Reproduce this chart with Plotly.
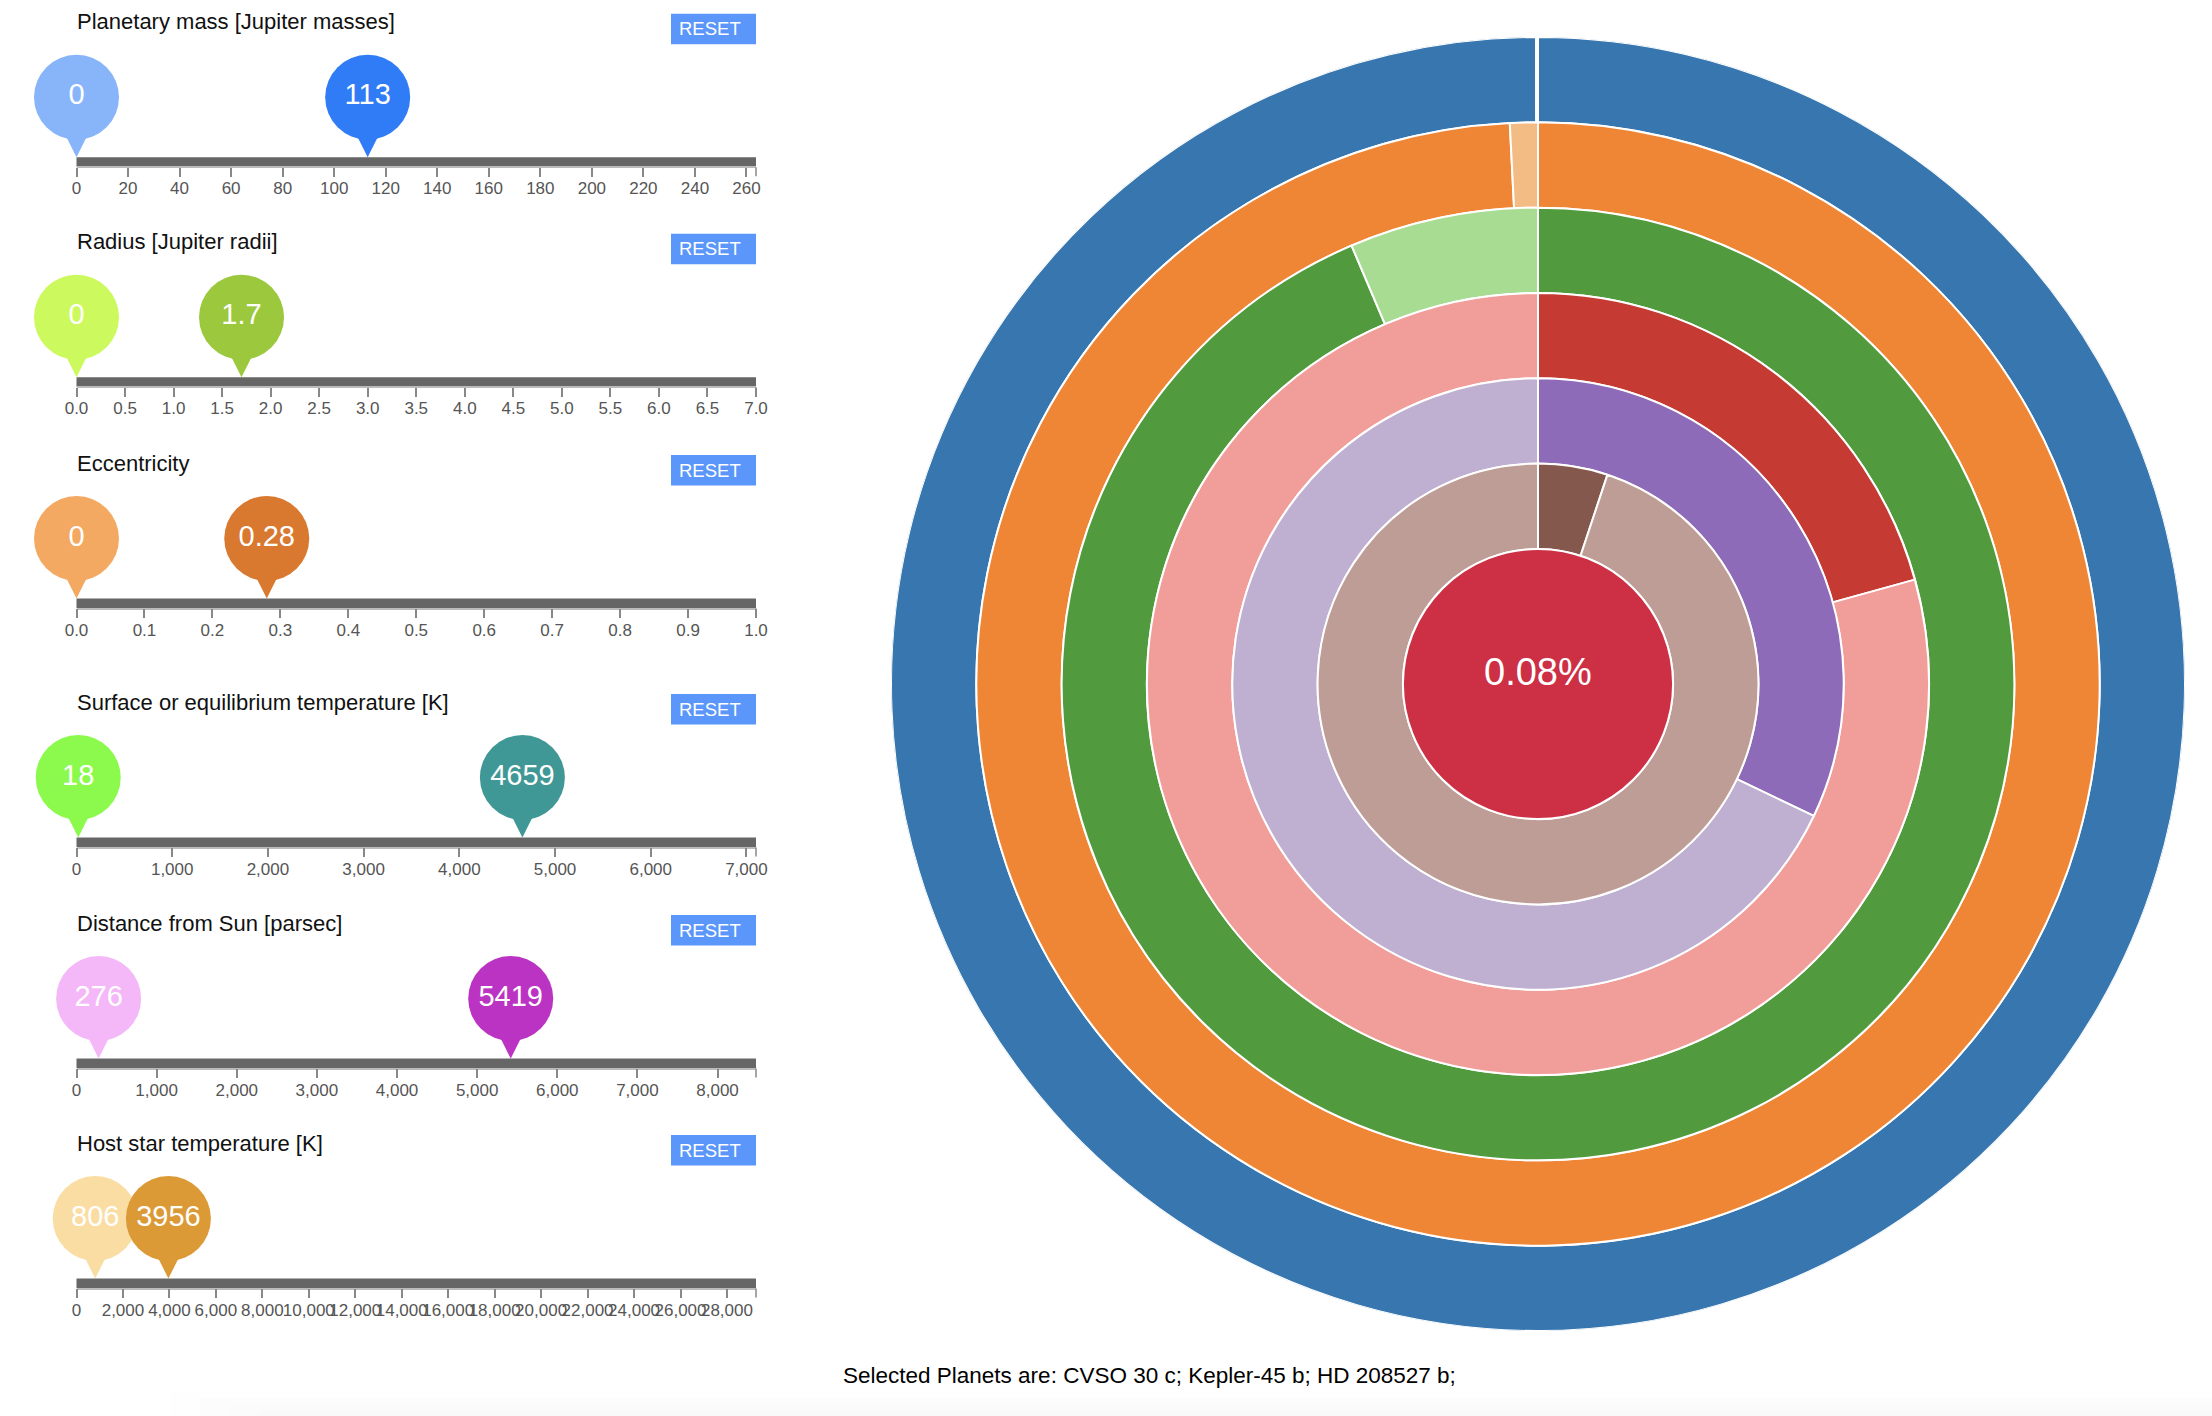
import plotly.graph_objects as go

W, H = 2212, 1416
FONT = "Liberation Sans, Arial, Helvetica, sans-serif"

# ---------------- data ----------------
slider_titles = [
    "Planetary mass [Jupiter masses]",
    "Radius [Jupiter radii]",
    "Eccentricity",
    "Surface or equilibrium temperature [K]",
    "Distance from Sun [parsec]",
    "Host star temperature [K]",
]
axis_max = [263.7, 7.0, 1.0, 7100, 8480, 29250]
tick_step = [20, 0.5, 0.1, 1000, 1000, 2000]
tick_format = ["d", ".1f", ".1f", ",d", ",d", ",d"]
low_values = [0, 0, 0, 18, 276, 806]
high_values = [113, 1.7, 0.28, 4659, 5419, 3956]
low_colors = ["#88b5fa", "#ccfa5e", "#f4a962", "#8cfa4d", "#f4b8f8", "#fadda3"]
high_colors = ["#2f7cf6", "#9bc83d", "#d9782f", "#409896", "#bb33c2", "#dc9a37"]

ring_labels = ["Planetary mass", "Radius", "Eccentricity",
               "Surface temperature", "Distance", "Host star temperature"]
ring_selected_share = [0.9995, 0.992, 0.936, 0.207, 0.321, 0.051]
ring_dark_colors = ["#3776ae", "#ef8636", "#529a3e", "#c53a32", "#8d6bb8", "#84584c"]
ring_light_colors = ["#aec7e8", "#f4bc85", "#a8dc93", "#f19d99", "#bfb0d2", "#bd9d95"]
center_text = "0.08%"
center_color = "#cd3044"
selected_planets = ["CVSO 30 c", "Kepler-45 b", "HD 208527 b"]

# ---------------- layout constants (pixels) ----------------
slider_top = [21.7, 241.7, 463, 702, 923, 1143]
X_LEFT, X_RIGHT = 76.5, 756.0
AXIS_OFF = 145.5      # axis line below title
TOP_OFF = 30.0
BELOW = 12.0
BAR_TOP = 9.9


def px_y(p):
    return 1 - p / H


def px_x(p):
    return p / W


fig = go.Figure()
shapes = []
annotations = []

# very faint shading at the bottom of the page
for x0, y0, col in ((170, 1392, "#fefefe"), (200, 1399, "#fcfcfc"),
                    (230, 1405, "#fbfbfb"), (260, 1410, "#f9f9f9")):
    shapes.append(dict(type="rect", xref="paper", yref="paper",
                       x0=px_x(x0), x1=1, y0=0, y1=px_y(y0),
                       fillcolor=col, line=dict(width=0), layer="below"))

for k in range(6):
    T = slider_top[k]
    xa = "xaxis" if k == 0 else f"xaxis{k+1}"
    ya = "yaxis" if k == 0 else f"yaxis{k+1}"
    xr = "x" if k == 0 else f"x{k+1}"
    yr = "y" if k == 0 else f"y{k+1}"
    axis_line = T + AXIS_OFF
    top = T + TOP_OFF
    ytop_units = AXIS_OFF - TOP_OFF
    fig.update_layout(**{
        xa: dict(domain=[px_x(X_LEFT), px_x(X_RIGHT)], range=[0, axis_max[k]],
                 anchor="free", position=px_y(axis_line), automargin=False,
                 showgrid=False, zeroline=False, showline=True,
                 linecolor="#bbbbbb", linewidth=1.5,
                 ticks="outside", ticklen=9, tickwidth=1.5, tickcolor="#888888",
                 tick0=0, dtick=tick_step[k], tickformat=tick_format[k],
                 tickangle=0, ticklabelstandoff=-3,
                 tickfont=dict(size=17, color="#555555", family=FONT),
                 fixedrange=True),
        ya: dict(domain=[px_y(axis_line + BELOW), px_y(top)],
                 range=[-BELOW, ytop_units], visible=False, fixedrange=True,
                 anchor=xr, automargin=False),
    })
    # track bar
    shapes.append(dict(type="rect", xref=f"{xr} domain", yref=yr,
                       x0=0, x1=1, y0=0.5, y1=BAR_TOP,
                       fillcolor="#666666", line=dict(width=0), layer="below"))
    # outer end tick
    shapes.append(dict(type="line", xref=f"{xr} domain", yref=yr,
                       x0=1, x1=1, y0=0, y1=-9,
                       line=dict(color="#888888", width=1.5)))
    # pins: low then high
    for val, col in ((low_values[k], low_colors[k]), (high_values[k], high_colors[k])):
        fig.add_trace(go.Scatter(
            x=[val], y=[BAR_TOP], xaxis=xr, yaxis=yr, mode="markers",
            marker=dict(symbol="arrow-down", size=21, color=col, line=dict(width=0)),
            hoverinfo="skip", showlegend=False, cliponaxis=False))
        fig.add_trace(go.Scatter(
            x=[val], y=[70], xaxis=xr, yaxis=yr, mode="markers+text",
            marker=dict(symbol="circle", size=85, color=col, line=dict(width=0)),
            text=[f"{val:g}"], textposition="middle center",
            textfont=dict(size=29, color="white", family=FONT),
            hoverinfo="skip", showlegend=False, cliponaxis=False))
    # title
    annotations.append(dict(text=slider_titles[k], xref="paper", yref="paper",
                            x=px_x(74.5), y=px_y(T), xanchor="left", yanchor="middle",
                            showarrow=False, font=dict(size=22, color="#111111", family=FONT)))
    # RESET button
    shapes.append(dict(type="rect", xref="paper", yref="paper",
                       x0=px_x(671), x1=px_x(756), y0=px_y(T + 22.5), y1=px_y(T - 8),
                       fillcolor="#5b97fa", line=dict(width=0)))
    annotations.append(dict(text="RESET", xref="paper", yref="paper",
                            x=px_x(677), y=px_y(T + 7.2), xanchor="left", yanchor="middle",
                            showarrow=False, font=dict(size=18.5, color="white", family=FONT)))

# ---------------- rings ----------------
CENTER_R = 1.583
RING_W = 1.0
n = len(ring_selected_share)
thetas, widths, bases, colors = [], [], [], []
for i, f in enumerate(ring_selected_share):
    base = CENTER_R + (n - 1 - i) * RING_W
    thetas += [f * 180, f * 360 + (1 - f) * 180]
    widths += [f * 360, (1 - f) * 360]
    bases += [base, base]
    colors += [ring_dark_colors[i], ring_light_colors[i]]

fig.add_trace(go.Barpolar(
    r=[RING_W] * len(thetas), theta=thetas, width=widths, base=bases,
    marker=dict(color=colors, line=dict(color="white", width=2)),
    hoverinfo="skip", showlegend=False, subplot="polar"))
fig.add_trace(go.Barpolar(
    r=[CENTER_R], theta=[180], width=[360], base=[0],
    marker=dict(color=[center_color], line=dict(color="white", width=2)),
    hoverinfo="skip", showlegend=False, subplot="polar"))

CX, CY, R_OUT = 1538, 684, 647
fig.update_layout(polar=dict(
    domain=dict(x=[px_x(CX - R_OUT), px_x(CX + R_OUT)],
                y=[px_y(CY + R_OUT), px_y(CY - R_OUT)]),
    bgcolor="rgba(0,0,0,0)", hole=0,
    radialaxis=dict(range=[0, CENTER_R + n * RING_W], visible=False),
    angularaxis=dict(rotation=90, direction="clockwise", visible=False),
))

annotations.append(dict(text=center_text, xref="paper", yref="paper",
                        x=px_x(CX), y=px_y(672), xanchor="center", yanchor="middle",
                        showarrow=False, font=dict(size=38, color="white", family=FONT)))

annotations.append(dict(text="Selected Planets are: " + "".join(p + "; " for p in selected_planets).rstrip(),
                        xref="paper", yref="paper", x=px_x(841), y=px_y(1375),
                        xanchor="left", yanchor="middle", showarrow=False,
                        font=dict(size=22.5, color="#000000", family=FONT)))

fig.update_layout(width=W, height=H,
                  margin=dict(l=0, r=0, t=0, b=0, pad=0, autoexpand=False),
                  paper_bgcolor="white", plot_bgcolor="rgba(0,0,0,0)",
                  shapes=shapes, annotations=annotations, showlegend=False,
                  font=dict(family=FONT))

fig.write_html("out.html",
               config={"displayModeBar": False},
               post_script="document.body.style.margin='0px';"
                           "document.body.style.overflow='hidden';")
